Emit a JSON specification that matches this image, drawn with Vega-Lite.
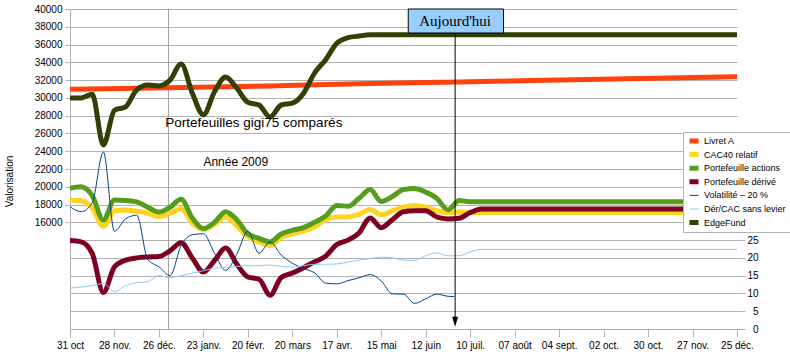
{
"$schema": "https://vega.github.io/schema/vega-lite/v6.json",
"width": 667, "height": 320,
"autosize": {"type": "none"},
"padding": {"left": 70, "top": 9, "right": 53, "bottom": 28},
"background": "white",
"config": {"view": {"stroke": null}, "font": "Liberation Sans", "legend": {"symbolType": "stroke"}},
"datasets": {"series": [
{"s":"Livret A","d":"2008-10-31","v":30980},
{"s":"Livret A","d":"2009-01-01","v":31150},
{"s":"Livret A","d":"2009-03-06","v":31350},
{"s":"Livret A","d":"2009-05-01","v":31600},
{"s":"Livret A","d":"2009-07-03","v":31800},
{"s":"Livret A","d":"2009-09-04","v":32000},
{"s":"Livret A","d":"2009-12-25","v":32380},
{"s":"CAC40 relatif","d":"2008-10-31","v":18500},
{"s":"CAC40 relatif","d":"2008-11-07","v":18420},
{"s":"CAC40 relatif","d":"2008-11-14","v":17600},
{"s":"CAC40 relatif","d":"2008-11-21","v":15550},
{"s":"CAC40 relatif","d":"2008-11-28","v":17300},
{"s":"CAC40 relatif","d":"2008-12-05","v":17400},
{"s":"CAC40 relatif","d":"2008-12-12","v":17250},
{"s":"CAC40 relatif","d":"2008-12-19","v":17050},
{"s":"CAC40 relatif","d":"2008-12-26","v":16650},
{"s":"CAC40 relatif","d":"2009-01-02","v":17000},
{"s":"CAC40 relatif","d":"2009-01-09","v":17550},
{"s":"CAC40 relatif","d":"2009-01-16","v":15900},
{"s":"CAC40 relatif","d":"2009-01-23","v":15200},
{"s":"CAC40 relatif","d":"2009-01-30","v":15800},
{"s":"CAC40 relatif","d":"2009-02-06","v":16600},
{"s":"CAC40 relatif","d":"2009-02-13","v":15600},
{"s":"CAC40 relatif","d":"2009-02-20","v":14400},
{"s":"CAC40 relatif","d":"2009-02-27","v":13800},
{"s":"CAC40 relatif","d":"2009-03-06","v":13400},
{"s":"CAC40 relatif","d":"2009-03-13","v":14300},
{"s":"CAC40 relatif","d":"2009-03-20","v":14700},
{"s":"CAC40 relatif","d":"2009-03-27","v":15000},
{"s":"CAC40 relatif","d":"2009-04-03","v":15500},
{"s":"CAC40 relatif","d":"2009-04-10","v":16300},
{"s":"CAC40 relatif","d":"2009-04-17","v":16600},
{"s":"CAC40 relatif","d":"2009-04-24","v":16600},
{"s":"CAC40 relatif","d":"2009-05-01","v":16900},
{"s":"CAC40 relatif","d":"2009-05-08","v":17450},
{"s":"CAC40 relatif","d":"2009-05-15","v":16850},
{"s":"CAC40 relatif","d":"2009-05-22","v":17300},
{"s":"CAC40 relatif","d":"2009-05-29","v":17700},
{"s":"CAC40 relatif","d":"2009-06-05","v":17900},
{"s":"CAC40 relatif","d":"2009-06-12","v":17700},
{"s":"CAC40 relatif","d":"2009-06-19","v":17300},
{"s":"CAC40 relatif","d":"2009-06-26","v":17100},
{"s":"CAC40 relatif","d":"2009-07-03","v":17150},
{"s":"CAC40 relatif","d":"2009-07-10","v":17100},
{"s":"CAC40 relatif","d":"2009-12-25","v":17100},
{"s":"Portefeuille actions","d":"2008-10-31","v":19830},
{"s":"Portefeuille actions","d":"2008-11-07","v":20000},
{"s":"Portefeuille actions","d":"2008-11-14","v":19000},
{"s":"Portefeuille actions","d":"2008-11-21","v":16260},
{"s":"Portefeuille actions","d":"2008-11-28","v":18500},
{"s":"Portefeuille actions","d":"2008-12-05","v":18450},
{"s":"Portefeuille actions","d":"2008-12-12","v":18300},
{"s":"Portefeuille actions","d":"2008-12-19","v":17700},
{"s":"Portefeuille actions","d":"2008-12-26","v":17150},
{"s":"Portefeuille actions","d":"2009-01-02","v":17700},
{"s":"Portefeuille actions","d":"2009-01-09","v":18600},
{"s":"Portefeuille actions","d":"2009-01-16","v":16500},
{"s":"Portefeuille actions","d":"2009-01-23","v":15300},
{"s":"Portefeuille actions","d":"2009-01-30","v":16000},
{"s":"Portefeuille actions","d":"2009-02-06","v":17200},
{"s":"Portefeuille actions","d":"2009-02-13","v":16300},
{"s":"Portefeuille actions","d":"2009-02-20","v":14700},
{"s":"Portefeuille actions","d":"2009-02-27","v":14200},
{"s":"Portefeuille actions","d":"2009-03-06","v":13800},
{"s":"Portefeuille actions","d":"2009-03-13","v":14700},
{"s":"Portefeuille actions","d":"2009-03-20","v":15100},
{"s":"Portefeuille actions","d":"2009-03-27","v":15400},
{"s":"Portefeuille actions","d":"2009-04-03","v":16000},
{"s":"Portefeuille actions","d":"2009-04-10","v":16700},
{"s":"Portefeuille actions","d":"2009-04-17","v":17900},
{"s":"Portefeuille actions","d":"2009-04-24","v":17800},
{"s":"Portefeuille actions","d":"2009-05-01","v":18700},
{"s":"Portefeuille actions","d":"2009-05-08","v":19700},
{"s":"Portefeuille actions","d":"2009-05-15","v":18350},
{"s":"Portefeuille actions","d":"2009-05-22","v":18900},
{"s":"Portefeuille actions","d":"2009-05-29","v":19700},
{"s":"Portefeuille actions","d":"2009-06-05","v":19800},
{"s":"Portefeuille actions","d":"2009-06-12","v":19400},
{"s":"Portefeuille actions","d":"2009-06-19","v":18700},
{"s":"Portefeuille actions","d":"2009-06-26","v":17400},
{"s":"Portefeuille actions","d":"2009-07-03","v":18450},
{"s":"Portefeuille actions","d":"2009-07-10","v":18320},
{"s":"Portefeuille actions","d":"2009-12-25","v":18320},
{"s":"Portefeuille dérivé","d":"2008-10-31","v":13950},
{"s":"Portefeuille dérivé","d":"2008-11-07","v":13800},
{"s":"Portefeuille dérivé","d":"2008-11-14","v":12500},
{"s":"Portefeuille dérivé","d":"2008-11-21","v":8100},
{"s":"Portefeuille dérivé","d":"2008-11-28","v":11000},
{"s":"Portefeuille dérivé","d":"2008-12-05","v":11750},
{"s":"Portefeuille dérivé","d":"2008-12-12","v":12000},
{"s":"Portefeuille dérivé","d":"2008-12-19","v":12100},
{"s":"Portefeuille dérivé","d":"2008-12-26","v":12150},
{"s":"Portefeuille dérivé","d":"2009-01-02","v":12800},
{"s":"Portefeuille dérivé","d":"2009-01-09","v":13700},
{"s":"Portefeuille dérivé","d":"2009-01-16","v":12000},
{"s":"Portefeuille dérivé","d":"2009-01-23","v":10400},
{"s":"Portefeuille dérivé","d":"2009-01-30","v":11700},
{"s":"Portefeuille dérivé","d":"2009-02-06","v":13100},
{"s":"Portefeuille dérivé","d":"2009-02-13","v":11300},
{"s":"Portefeuille dérivé","d":"2009-02-20","v":9850},
{"s":"Portefeuille dérivé","d":"2009-02-27","v":9600},
{"s":"Portefeuille dérivé","d":"2009-03-06","v":7800},
{"s":"Portefeuille dérivé","d":"2009-03-13","v":9800},
{"s":"Portefeuille dérivé","d":"2009-03-20","v":10300},
{"s":"Portefeuille dérivé","d":"2009-03-27","v":10900},
{"s":"Portefeuille dérivé","d":"2009-04-03","v":11550},
{"s":"Portefeuille dérivé","d":"2009-04-10","v":12200},
{"s":"Portefeuille dérivé","d":"2009-04-17","v":13500},
{"s":"Portefeuille dérivé","d":"2009-04-24","v":14000},
{"s":"Portefeuille dérivé","d":"2009-05-01","v":14800},
{"s":"Portefeuille dérivé","d":"2009-05-08","v":16500},
{"s":"Portefeuille dérivé","d":"2009-05-15","v":15400},
{"s":"Portefeuille dérivé","d":"2009-05-22","v":16300},
{"s":"Portefeuille dérivé","d":"2009-05-29","v":17200},
{"s":"Portefeuille dérivé","d":"2009-06-05","v":17300},
{"s":"Portefeuille dérivé","d":"2009-06-12","v":17300},
{"s":"Portefeuille dérivé","d":"2009-06-19","v":16600},
{"s":"Portefeuille dérivé","d":"2009-06-26","v":16380},
{"s":"Portefeuille dérivé","d":"2009-07-03","v":16450},
{"s":"Portefeuille dérivé","d":"2009-07-10","v":17100},
{"s":"Portefeuille dérivé","d":"2009-07-17","v":17500},
{"s":"Portefeuille dérivé","d":"2009-12-25","v":17500},
{"s":"EdgeFund","d":"2008-10-31","v":30000},
{"s":"EdgeFund","d":"2008-11-07","v":30000},
{"s":"EdgeFund","d":"2008-11-14","v":30400},
{"s":"EdgeFund","d":"2008-11-21","v":24700},
{"s":"EdgeFund","d":"2008-11-28","v":28600},
{"s":"EdgeFund","d":"2008-12-05","v":29000},
{"s":"EdgeFund","d":"2008-12-12","v":30900},
{"s":"EdgeFund","d":"2008-12-19","v":31450},
{"s":"EdgeFund","d":"2008-12-26","v":31350},
{"s":"EdgeFund","d":"2009-01-02","v":32000},
{"s":"EdgeFund","d":"2009-01-09","v":33800},
{"s":"EdgeFund","d":"2009-01-16","v":30550},
{"s":"EdgeFund","d":"2009-01-23","v":28100},
{"s":"EdgeFund","d":"2009-01-30","v":30700},
{"s":"EdgeFund","d":"2009-02-06","v":32350},
{"s":"EdgeFund","d":"2009-02-13","v":31100},
{"s":"EdgeFund","d":"2009-02-20","v":29500},
{"s":"EdgeFund","d":"2009-02-27","v":29200},
{"s":"EdgeFund","d":"2009-03-06","v":27850},
{"s":"EdgeFund","d":"2009-03-13","v":29200},
{"s":"EdgeFund","d":"2009-03-20","v":29400},
{"s":"EdgeFund","d":"2009-03-27","v":30500},
{"s":"EdgeFund","d":"2009-04-03","v":32800},
{"s":"EdgeFund","d":"2009-04-10","v":34300},
{"s":"EdgeFund","d":"2009-04-17","v":36150},
{"s":"EdgeFund","d":"2009-04-24","v":36770},
{"s":"EdgeFund","d":"2009-05-01","v":36960},
{"s":"EdgeFund","d":"2009-05-08","v":37100},
{"s":"EdgeFund","d":"2009-05-15","v":37100},
{"s":"EdgeFund","d":"2009-12-25","v":37100},
{"s":"Volatilité – 20 %","d":"2008-10-31","v":34.4},
{"s":"Volatilité – 20 %","d":"2008-11-07","v":33.0},
{"s":"Volatilité – 20 %","d":"2008-11-14","v":35.5},
{"s":"Volatilité – 20 %","d":"2008-11-21","v":49.8},
{"s":"Volatilité – 20 %","d":"2008-11-28","v":27.5},
{"s":"Volatilité – 20 %","d":"2008-12-05","v":31.0},
{"s":"Volatilité – 20 %","d":"2008-12-12","v":32.0},
{"s":"Volatilité – 20 %","d":"2008-12-19","v":19.5},
{"s":"Volatilité – 20 %","d":"2008-12-26","v":17.5},
{"s":"Volatilité – 20 %","d":"2009-01-02","v":15.0},
{"s":"Volatilité – 20 %","d":"2009-01-09","v":23.5},
{"s":"Volatilité – 20 %","d":"2009-01-16","v":26.5},
{"s":"Volatilité – 20 %","d":"2009-01-23","v":26.8},
{"s":"Volatilité – 20 %","d":"2009-01-30","v":21.3},
{"s":"Volatilité – 20 %","d":"2009-02-06","v":16.5},
{"s":"Volatilité – 20 %","d":"2009-02-13","v":21.0},
{"s":"Volatilité – 20 %","d":"2009-02-20","v":27.5},
{"s":"Volatilité – 20 %","d":"2009-02-27","v":21.3},
{"s":"Volatilité – 20 %","d":"2009-03-06","v":24.5},
{"s":"Volatilité – 20 %","d":"2009-03-13","v":20.8},
{"s":"Volatilité – 20 %","d":"2009-03-20","v":18.5},
{"s":"Volatilité – 20 %","d":"2009-03-27","v":17.0},
{"s":"Volatilité – 20 %","d":"2009-04-03","v":15.8},
{"s":"Volatilité – 20 %","d":"2009-04-10","v":12.9},
{"s":"Volatilité – 20 %","d":"2009-04-17","v":12.7},
{"s":"Volatilité – 20 %","d":"2009-04-24","v":13.6},
{"s":"Volatilité – 20 %","d":"2009-05-01","v":14.4},
{"s":"Volatilité – 20 %","d":"2009-05-08","v":15.3},
{"s":"Volatilité – 20 %","d":"2009-05-15","v":13.5},
{"s":"Volatilité – 20 %","d":"2009-05-22","v":9.9},
{"s":"Volatilité – 20 %","d":"2009-05-29","v":9.8},
{"s":"Volatilité – 20 %","d":"2009-06-05","v":7.2},
{"s":"Volatilité – 20 %","d":"2009-06-12","v":8.5},
{"s":"Volatilité – 20 %","d":"2009-06-19","v":9.8},
{"s":"Volatilité – 20 %","d":"2009-06-26","v":9.2},
{"s":"Volatilité – 20 %","d":"2009-06-30","v":9.1},
{"s":"Dér/CAC sans levier","d":"2008-10-31","v":11.5},
{"s":"Dér/CAC sans levier","d":"2008-11-07","v":11.8},
{"s":"Dér/CAC sans levier","d":"2008-11-14","v":12.2},
{"s":"Dér/CAC sans levier","d":"2008-11-21","v":12.8},
{"s":"Dér/CAC sans levier","d":"2008-11-28","v":10.5},
{"s":"Dér/CAC sans levier","d":"2008-12-05","v":12.2},
{"s":"Dér/CAC sans levier","d":"2008-12-12","v":13.0},
{"s":"Dér/CAC sans levier","d":"2008-12-19","v":13.3},
{"s":"Dér/CAC sans levier","d":"2008-12-26","v":15.0},
{"s":"Dér/CAC sans levier","d":"2009-01-02","v":14.5},
{"s":"Dér/CAC sans levier","d":"2009-01-09","v":15.0},
{"s":"Dér/CAC sans levier","d":"2009-01-16","v":15.7},
{"s":"Dér/CAC sans levier","d":"2009-01-23","v":16.4},
{"s":"Dér/CAC sans levier","d":"2009-01-30","v":17.1},
{"s":"Dér/CAC sans levier","d":"2009-02-06","v":17.3},
{"s":"Dér/CAC sans levier","d":"2009-02-13","v":17.6},
{"s":"Dér/CAC sans levier","d":"2009-02-20","v":17.8},
{"s":"Dér/CAC sans levier","d":"2009-02-27","v":17.8},
{"s":"Dér/CAC sans levier","d":"2009-03-06","v":18.0},
{"s":"Dér/CAC sans levier","d":"2009-03-13","v":17.6},
{"s":"Dér/CAC sans levier","d":"2009-03-20","v":17.4},
{"s":"Dér/CAC sans levier","d":"2009-03-27","v":17.8},
{"s":"Dér/CAC sans levier","d":"2009-04-03","v":18.2},
{"s":"Dér/CAC sans levier","d":"2009-04-10","v":18.2},
{"s":"Dér/CAC sans levier","d":"2009-04-17","v":18.3},
{"s":"Dér/CAC sans levier","d":"2009-04-24","v":18.8},
{"s":"Dér/CAC sans levier","d":"2009-05-01","v":19.4},
{"s":"Dér/CAC sans levier","d":"2009-05-08","v":19.8},
{"s":"Dér/CAC sans levier","d":"2009-05-15","v":20.2},
{"s":"Dér/CAC sans levier","d":"2009-05-22","v":20.0},
{"s":"Dér/CAC sans levier","d":"2009-05-29","v":19.4},
{"s":"Dér/CAC sans levier","d":"2009-06-05","v":19.3},
{"s":"Dér/CAC sans levier","d":"2009-06-12","v":20.6},
{"s":"Dér/CAC sans levier","d":"2009-06-19","v":21.4},
{"s":"Dér/CAC sans levier","d":"2009-06-26","v":20.6},
{"s":"Dér/CAC sans levier","d":"2009-07-03","v":20.6},
{"s":"Dér/CAC sans levier","d":"2009-07-10","v":21.7},
{"s":"Dér/CAC sans levier","d":"2009-07-17","v":22.4},
{"s":"Dér/CAC sans levier","d":"2009-12-25","v":22.4}
]},
"layer": [
{"layer": [
 {"data": {"values": [{"d": "2009-01-01"}]},
  "mark": {"type": "rule", "color": "#a0a0a0", "strokeWidth": 1},
  "encoding": {"x": {"field": "d", "type": "temporal", "scale": {"type": "utc", "domain": [1225411200000, 1261699200000]}}}},
 {"data": {"name": "series"},
  "transform": [{"filter": {"field": "s", "oneOf": ["Livret A", "CAC40 relatif", "Portefeuille actions", "Portefeuille dérivé", "EdgeFund"]}}],
  "mark": {"type": "line", "interpolate": "monotone", "strokeCap": "butt"},
  "encoding": {
   "x": {"field": "d", "type": "temporal", "scale": {"type": "utc", "domain": [1225411200000, 1261699200000]},
    "axis": {"title": null, "grid": false, "labelOverlap": false, "labelFlush": false, "labelFont": "Liberation Sans", "labelFontSize": 10, "labelColor": "black", "labelPadding": 3,
     "domainColor": "#b3b3b3", "tickColor": "#b3b3b3",
     "tickSize": {"condition": {"test": "abs(((datum.value - 1225411200000) / 86400000) % 28) < 0.5", "value": 8}, "value": 4},
     "labelExpr": "abs(((datum.value - 1225411200000) / 86400000) % 28) > 0.5 ? '' : (datum.value < 1226000000000 ? '31 oct' : utcFormat(datum.value, '%d') + ' ' + ['janv.','févr.','mars','avr.','mai','juin','juil.','août','sept.','oct.','nov.','déc.'][utcmonth(datum.value)])",
     "values": [1225411200000,1226016000000,1226620800000,1227225600000,1227830400000,1228435200000,1229040000000,1229644800000,1230249600000,1230854400000,1231459200000,1232064000000,1232668800000,1233273600000,1233878400000,1234483200000,1235088000000,1235692800000,1236297600000,1236902400000,1237507200000,1238112000000,1238716800000,1239321600000,1239926400000,1240531200000,1241136000000,1241740800000,1242345600000,1242950400000,1243555200000,1244160000000,1244764800000,1245369600000,1245974400000,1246579200000,1247184000000,1247788800000,1248393600000,1248998400000,1249603200000,1250208000000,1250812800000,1251417600000,1252022400000,1252627200000,1253232000000,1253836800000,1254441600000,1255046400000,1255651200000,1256256000000,1256860800000,1257465600000,1258070400000,1258675200000,1259280000000,1259884800000,1260489600000,1261094400000,1261699200000]}},
   "y": {"field": "v", "type": "quantitative", "scale": {"domain": [4000, 40000], "nice": false, "zero": false},
    "axis": {"values": [16000,18000,20000,22000,24000,26000,28000,30000,32000,34000,36000,38000,40000], "format": "d", "labelOverlap": false, "grid": true, "gridColor": "#b3b3b3",
     "domainColor": "#b3b3b3", "tickColor": "#b3b3b3", "tickSize": 5, "labelFont": "Liberation Sans", "labelFontSize": 10, "labelColor": "black", "labelPadding": 3,
     "title": "Valorisation", "titleFont": "Liberation Sans", "titleFontSize": 10, "titleFontWeight": "normal", "titleColor": "black",
     "titleX": -61, "titleY": 172, "titleAlign": "center", "titleBaseline": "middle", "titleAngle": 270}},
   "color": {"field": "s", "type": "nominal",
    "scale": {"domain": ["Livret A", "CAC40 relatif", "Portefeuille actions", "Portefeuille dérivé", "Volatilité – 20 %", "Dér/CAC sans levier", "EdgeFund"],
     "range": ["#ff420e", "#ffd320", "#579d1c", "#7e0021", "#004586", "#83caff", "#314004"]},
    "legend": {"title": null, "orient": "none", "legendX": 613, "legendY": 123, "labelFont": "Liberation Sans", "labelFontSize": 9, "labelColor": "black",
     "symbolSize": 81, "symbolType": "stroke", "fillColor": "white", "strokeColor": "#b3b3b3", "padding": 4, "rowPadding": 3.6, "clipHeight": 10, "labelOffset": 3}},
   "strokeWidth": {"field": "s", "type": "nominal",
    "scale": {"type": "ordinal", "domain": ["Livret A", "CAC40 relatif", "Portefeuille actions", "Portefeuille dérivé", "Volatilité – 20 %", "Dér/CAC sans levier", "EdgeFund"],
     "range": [5, 5, 5, 5, 1, 1, 5]},
    "legend": {"title": null, "orient": "none", "legendX": 613, "legendY": 123, "labelFont": "Liberation Sans", "labelFontSize": 9, "labelColor": "black",
     "symbolSize": 81, "symbolType": "stroke", "fillColor": "white", "strokeColor": "#b3b3b3", "padding": 4, "rowPadding": 3.6, "clipHeight": 10, "labelOffset": 3}}
  }}
]},
{"data": {"name": "series"},
 "transform": [{"filter": {"field": "s", "oneOf": ["Volatilité – 20 %", "Dér/CAC sans levier"]}}],
 "mark": {"type": "line", "interpolate": "monotone"},
 "encoding": {
  "x": {"field": "d", "type": "temporal", "scale": {"type": "utc", "domain": [1225411200000, 1261699200000]}},
  "y": {"field": "v", "type": "quantitative", "scale": {"domain": [0, 90], "nice": false, "zero": true},
   "axis": {"orient": "right", "values": [0, 5, 10, 15, 20, 25], "labelOverlap": false, "grid": true, "gridColor": "#b3b3b3", "domain": false, "tickColor": "#b3b3b3", "tickSize": 8,
    "labelAlign": "right", "labelPadding": 13, "labelFont": "Liberation Sans", "labelFontSize": 10, "labelColor": "black", "title": null}},
  "color": {"field": "s", "type": "nominal",
   "scale": {"domain": ["Livret A", "CAC40 relatif", "Portefeuille actions", "Portefeuille dérivé", "Volatilité – 20 %", "Dér/CAC sans levier", "EdgeFund"],
    "range": ["#ff420e", "#ffd320", "#579d1c", "#7e0021", "#004586", "#83caff", "#314004"]}},
  "strokeWidth": {"field": "s", "type": "nominal",
   "scale": {"type": "ordinal", "domain": ["Livret A", "CAC40 relatif", "Portefeuille actions", "Portefeuille dérivé", "Volatilité – 20 %", "Dér/CAC sans levier", "EdgeFund"],
    "range": [5, 5, 5, 5, 1, 1, 5]}}
 }},
{"layer": [
 {"data": {"values": [{"t": "Portefeuilles gigi75 comparés", "d": "2008-12-30", "v": 27200}]},
  "mark": {"type": "text", "align": "left", "baseline": "middle", "font": "Liberation Sans", "fontSize": 13.5, "color": "black"},
  "encoding": {"x": {"field": "d", "type": "temporal"}, "y": {"field": "v", "type": "quantitative", "scale": {"domain": [4000, 40000], "nice": false, "zero": false}, "axis": null}, "text": {"field": "t"}}},
 {"data": {"values": [{"t": "Année 2009", "d": "2009-01-23", "v": 22800}]},
  "mark": {"type": "text", "align": "left", "baseline": "middle", "font": "Liberation Sans", "fontSize": 12, "color": "black"},
  "encoding": {"x": {"field": "d", "type": "temporal"}, "y": {"field": "v", "type": "quantitative", "scale": {"domain": [4000, 40000], "nice": false, "zero": false}, "axis": null}, "text": {"field": "t"}}},
 {"data": {"values": [{"d": "2009-06-30T12:00:00Z", "v": 37300, "v2": 4900}]},
  "mark": {"type": "rule", "color": "black", "strokeWidth": 1},
  "encoding": {"x": {"field": "d", "type": "temporal"}, "y": {"field": "v", "type": "quantitative", "scale": {"domain": [4000, 40000], "nice": false, "zero": false}, "axis": null}, "y2": {"field": "v2"}}},
 {"data": {"values": [{"d": "2009-06-30T12:00:00Z", "v": 4820}]},
  "mark": {"type": "point", "shape": "M-0.6,-1L0.6,-1L0,1Z", "size": 100, "filled": true, "color": "black", "opacity": 1},
  "encoding": {"x": {"field": "d", "type": "temporal"}, "y": {"field": "v", "type": "quantitative", "scale": {"domain": [4000, 40000], "nice": false, "zero": false}, "axis": null}}},
 {"data": {"values": [{"d": "2009-06-01", "d2": "2009-07-31", "v": 40000, "v2": 37300}]},
  "mark": {"type": "rect", "fill": "#99ccff", "stroke": "black", "strokeWidth": 1},
  "encoding": {"x": {"field": "d", "type": "temporal"}, "x2": {"field": "d2"}, "y": {"field": "v", "type": "quantitative", "scale": {"domain": [4000, 40000], "nice": false, "zero": false}, "axis": null}, "y2": {"field": "v2"}}},
 {"data": {"values": [{"t": "Aujourd'hui", "d": "2009-06-30T12:00:00Z", "v": 38650}]},
  "mark": {"type": "text", "align": "center", "baseline": "middle", "font": "Liberation Serif", "fontSize": 15, "color": "black"},
  "encoding": {"x": {"field": "d", "type": "temporal"}, "y": {"field": "v", "type": "quantitative", "scale": {"domain": [4000, 40000], "nice": false, "zero": false}, "axis": null}, "text": {"field": "t"}}}
]}
],
"resolve": {"scale": {"y": "independent"}}
}
